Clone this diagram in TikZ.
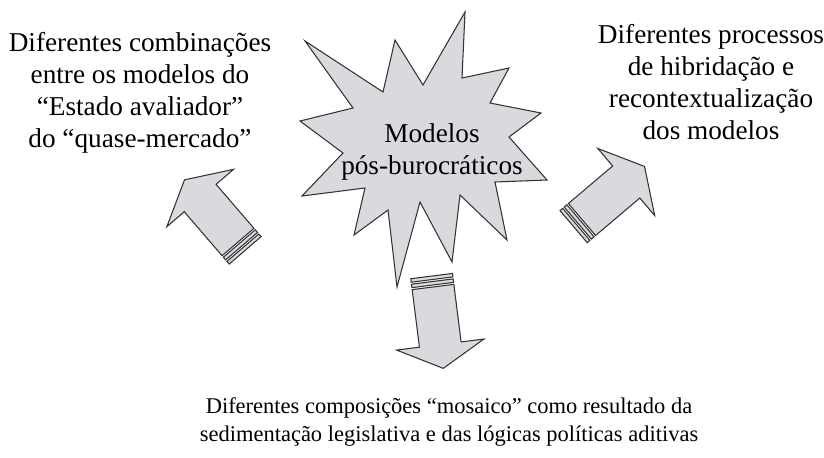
\documentclass[tikz,border=0pt]{standalone}
\usepackage{fontspec}
\setmainfont{Liberation Serif}

\definecolor{burstgray}{RGB}{217,218,222}
\tikzset{
  outline/.style={draw=black!80, fill=burstgray, line width=0.6pt, line join=miter},
  txt/.style={align=center, font=\fontsize{15.5}{18.2}\selectfont, inner sep=0pt},
}

% arrow with two bars at its tail: x, y of the tail, angle
\newcommand{\fatarrow}[3]{%
  \begin{scope}[shift={(#1,#2)}, rotate=#3]
    \draw[outline] (0,-21) -- (58,-21) -- (58,-44) -- (82,0) -- (58,44) -- (58,21) -- (0,21) -- cycle;
    \draw[outline] (-2,-21) rectangle (-5.5,21);
    \draw[outline] (-7.5,-21) rectangle (-11,21);
  \end{scope}}

\begin{document}
\begin{tikzpicture}[x=0.02cm, y=-0.02cm]
  \useasboundingbox (0,0) rectangle (824,457);

  % the burst
  \draw[outline] (465,12) -- (462,78) -- (509,68) -- (490,103) -- (541,113)
    -- (509,137) -- (547,180) -- (495,182) -- (507,240) -- (460,195)
    -- (452,262) -- (420,202) -- (397,287) -- (388,210) -- (354,235)
    -- (365,188) -- (302,196) -- (343,153) -- (300,121) -- (353,108)
    -- (305,41) -- (383,92) -- (395,40) -- (423,85) -- cycle;
  \node[txt] (models) at (432,152) {Modelos\\pós-burocráticos};

  % the three arrows
  \fatarrow{238}{242}{130.7}
  \fatarrow{582}{219.5}{40.3}
  \fatarrow{433}{287}{-82.8}

  \node[txt] (combos) at (140,93) {Diferentes combinações\\entre os modelos do\\“Estado avaliador”\\do “quase-mercado”};
  \node[txt] (hybrid) at (711,82) {Diferentes processos\\de hibridação e\\recontextualização\\dos modelos};
  \node[txt, font=\fontsize{12.8}{16.4}\selectfont] (mosaic) at (449,422) {Diferentes composições “mosaico” como resultado da\\sedimentação legislativa e das lógicas políticas aditivas};
\end{tikzpicture}
\end{document}
